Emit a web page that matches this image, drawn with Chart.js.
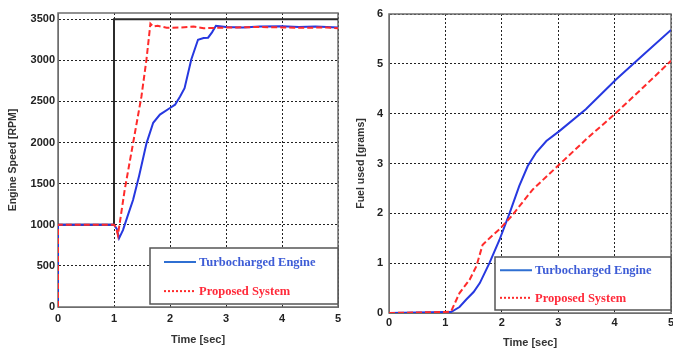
<!DOCTYPE html>
<html>
<head>
<meta charset="utf-8">
<script src="https://cdn.jsdelivr.net/npm/chart.js@4"></script>
<style>
  html, body { margin: 0; padding: 0; background: #fff; }
  body { width: 673px; height: 351px; position: relative; overflow: hidden; }
  .box { position: absolute; top: 0; height: 351px; }
  #leftBox  { left: 0;     width: 345px; }
  #rightBox { left: 340px; width: 333px; }
</style>
</head>
<body>
<div class="box" id="leftBox"><canvas id="speedChart"></canvas></div>
<div class="box" id="rightBox"><canvas id="fuelChart"></canvas></div>
<script>
// ── data ──────────────────────────────────────────────
const seriesNames = ['Turbocharged Engine', 'Proposed System'];
const timeTicks   = [0, 1, 2, 3, 4, 5];
const rpmTicks    = [0, 500, 1000, 1500, 2000, 2500, 3000, 3500];
const fuelTicks   = [0, 1, 2, 3, 4, 5, 6];

// engine speed [RPM]
const refTime   = [0, 1, 1, 5];
const refRpm    = [1000, 1000, 3500, 3500];
const turboTime = [0, 0, 1.0, 1.05, 1.09, 1.16, 1.25, 1.34, 1.45, 1.58, 1.70, 1.82, 2.0, 2.09, 2.18, 2.26, 2.38, 2.50, 2.60, 2.68, 2.75, 2.82, 3.0, 3.3, 3.6, 4.0, 4.3, 4.6, 5.0];
const turboRpm  = [0, 1000, 1000, 950, 835, 935, 1120, 1300, 1600, 1990, 2240, 2340, 2420, 2460, 2560, 2660, 3010, 3250, 3270, 3275, 3340, 3420, 3405, 3400, 3410, 3415, 3405, 3410, 3400];
const propTime  = [0, 0, 1.0, 1.04, 1.07, 1.12, 1.19, 1.34, 1.49, 1.58, 1.65, 1.70, 1.78, 1.94, 2.2, 2.42, 2.6, 2.84, 3.2, 3.6, 4.0, 4.4, 4.8, 5.0];
const propRpm   = [0, 1000, 1000, 960, 874, 1100, 1420, 1990, 2560, 3010, 3445, 3410, 3420, 3395, 3400, 3410, 3390, 3395, 3400, 3405, 3400, 3395, 3400, 3390];

// fuel used [grams]
const turboFuelTime = [0, 1.0, 1.1, 1.25, 1.37, 1.5, 1.61, 1.78, 1.96, 2.14, 2.31, 2.46, 2.61, 2.79, 3.02, 3.49, 4.03, 4.5, 5.0];
const turboFuel     = [0, 0.02, 0.02, 0.12, 0.27, 0.42, 0.60, 1.0, 1.47, 2.01, 2.55, 2.95, 3.22, 3.45, 3.65, 4.09, 4.69, 5.17, 5.68];
const propFuelTime  = [0, 1.0, 1.1, 1.25, 1.43, 1.55, 1.66, 1.80, 1.96, 2.17, 2.55, 3.02, 3.5, 4.01, 4.5, 5.0];
const propFuel      = [0, 0.02, 0.03, 0.4, 0.67, 0.94, 1.37, 1.52, 1.68, 1.94, 2.48, 2.98, 3.49, 4.0, 4.52, 5.06];

const pts = (xs, ys) => xs.map((x, i) => ({ x, y: ys[i] }));

// ── frame + in-plot legend ───────────────────────────
const framePlugin = {
  id: 'frame',
  beforeDatasetsDraw(chart) {
    const { ctx, chartArea: a } = chart;
    ctx.save();
    ctx.strokeStyle = '#6e6e6e';
    ctx.lineWidth = 1.5;
    ctx.strokeRect(a.left, a.top, a.right - a.left, a.bottom - a.top);
    ctx.restore();
  },
  afterDatasetsDraw(chart, args, opts) {
    const { ctx } = chart;
    const b = opts.box;
    ctx.save();
    ctx.fillStyle = '#fff';
    ctx.fillRect(b.x, b.y, b.w, b.h);
    ctx.strokeStyle = '#555';
    ctx.lineWidth = 1.5;
    ctx.strokeRect(b.x, b.y, b.w, b.h);

    const rows = [
      { y: b.y + b.h * 0.25, line: '#2f6fd2', text: '#3d5cd6', dash: [] },
      { y: b.y + b.h * 0.77, line: '#ff2a2a', text: '#ff2a3a', dash: [2, 2] }
    ];
    ctx.font = 'bold 12.5px "Liberation Serif", "Times New Roman", serif';
    ctx.textBaseline = 'middle';
    rows.forEach((r, i) => {
      ctx.strokeStyle = r.line;
      ctx.lineWidth = 2;
      ctx.setLineDash(r.dash);
      ctx.beginPath();
      ctx.moveTo(b.x + b.lx, r.y);
      ctx.lineTo(b.x + b.lx + 32, r.y);
      ctx.stroke();
      ctx.setLineDash([]);
      ctx.fillStyle = r.text;
      ctx.fillText(seriesNames[i], b.x + b.lx + 35, r.y + 1);
    });
    ctx.restore();
  }
};

const tickFont  = { family: 'Arial, "Liberation Sans", sans-serif', size: 11, weight: 'bold' };
const titleFont = { family: 'Arial, "Liberation Sans", sans-serif', size: 10.5, weight: 'bold' };
const useTicks  = list => s => { s.ticks = list.map(value => ({ value })); };

function makeChart(id, datasets, cfg) {
  return new Chart(document.getElementById(id), {
    type: 'line',
    data: { datasets },
    options: {
      responsive: false,
      animation: false,
      layout: { padding: { top: cfg.padTop, right: cfg.padRight, left: 0, bottom: 0 } },
      plugins: { legend: { display: false }, tooltip: { enabled: false }, frame: { box: cfg.box } },
      elements: { point: { radius: 0 }, line: { tension: 0 } },
      scales: {
        x: {
          type: 'linear', min: 0, max: 5,
          afterBuildTicks: useTicks(timeTicks),
          ticks: { color: '#222', font: tickFont, padding: cfg.xTickPad, maxRotation: 0, callback: v => String(v) },
          grid: { color: '#222', lineWidth: 1, drawTicks: false },
          border: { display: true, color: '#6e6e6e', dash: [2, 2] },
          title: { display: true, text: 'Time [sec]', color: '#333', font: { ...titleFont, size: 11 }, padding: { top: 0, bottom: cfg.xTitlePad } },
          afterFit: s => { s.height = cfg.xHeight; s.paddingLeft = 0; s.paddingRight = 0; }
        },
        y: {
          type: 'linear', min: 0, max: cfg.yMax,
          afterBuildTicks: useTicks(cfg.yTicks),
          ticks: { color: '#222', font: tickFont, padding: cfg.yTickPad, callback: v => String(v) },
          grid: { color: '#222', lineWidth: 1, drawTicks: false },
          border: { display: true, color: '#6e6e6e', dash: [2, 2] },
          title: { display: true, text: cfg.yTitle, color: '#333', font: titleFont, padding: { top: cfg.yTitlePad, bottom: 0 } },
          afterFit: s => { s.width = cfg.yWidth; }
        }
      }
    },
    plugins: [framePlugin]
  });
}

const speedCanvas = document.getElementById('speedChart');
speedCanvas.width = 345; speedCanvas.height = 351;
const fuelCanvas = document.getElementById('fuelChart');
fuelCanvas.width = 333; fuelCanvas.height = 351;

makeChart('speedChart', [
  { data: pts(refTime, refRpm),     borderColor: '#2b2b2b', borderWidth: 2, order: 3 },
  { data: pts(turboTime, turboRpm), borderColor: '#2638e0', borderWidth: 2, order: 2 },
  { data: pts(propTime, propRpm),   borderColor: '#ff2b2b', borderWidth: 2, borderDash: [6, 3], order: 1 }
], {
  padTop: 13, padRight: 7, yWidth: 58, xHeight: 44, yMax: 3575, yTicks: rpmTicks,
  yTitle: 'Engine Speed [RPM]', yTitlePad: 7, yTickPad: 3, xTickPad: 5, xTitlePad: 4,
  box: { x: 150, y: 248, w: 188, h: 56, lx: 14 }
});

makeChart('fuelChart', [
  { data: pts(turboFuelTime, turboFuel), borderColor: '#2638e0', borderWidth: 2, order: 2 },
  { data: pts(propFuelTime, propFuel),   borderColor: '#ff2b2b', borderWidth: 2, borderDash: [6, 3], order: 1 }
], {
  padTop: 14, padRight: 2, yWidth: 49, xHeight: 38, yMax: 6, yTicks: fuelTicks,
  yTitle: 'Fuel used [grams]', yTitlePad: 15, yTickPad: 6, xTickPad: 3, xTitlePad: 1,
  box: { x: 155, y: 257, w: 176, h: 53, lx: 5 }
});
</script>
</body>
</html>
